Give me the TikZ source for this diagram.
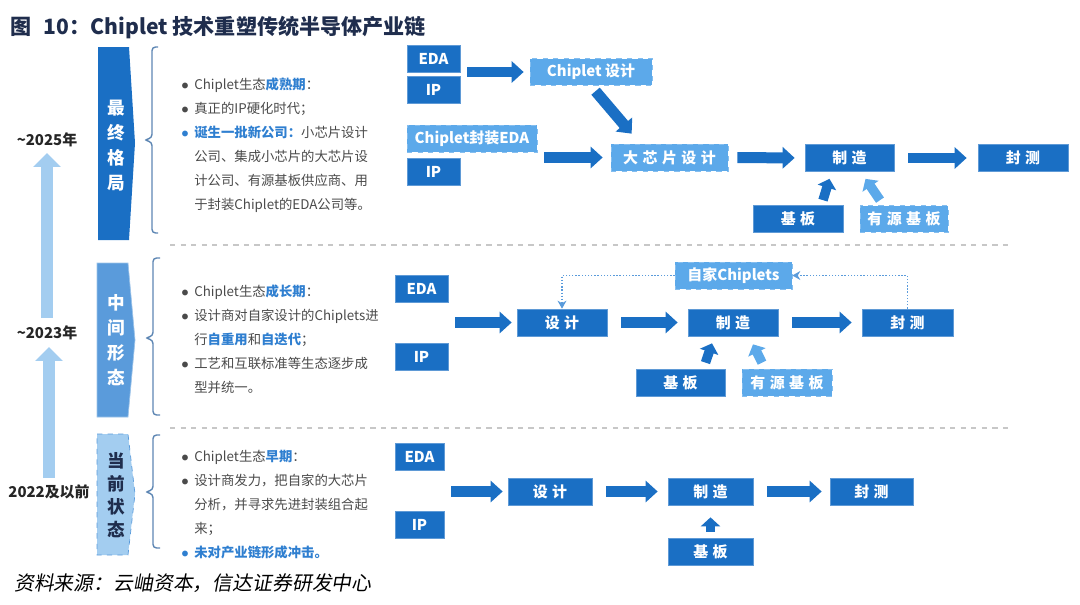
\documentclass[tikz,border=0pt]{standalone}
\usepackage{fontspec}
\setmainfont{Noto Sans CJK SC}
\newfontfamily\srcfont{Noto Sans CJK SC}[FakeSlant=0.18]
\usetikzlibrary{arrows.meta,calc}

\definecolor{dkblue}{HTML}{1A6FC4}
\definecolor{ltblue}{HTML}{5CA9EA}
\definecolor{midblue}{HTML}{5A9BDB}
\definecolor{paleblue}{HTML}{A3CDF0}
\definecolor{navy}{HTML}{1F2D4D}
\definecolor{hiblue}{HTML}{2F7FD0}
\definecolor{bodygray}{HTML}{4A4A4A}
\definecolor{bracecol}{HTML}{5D86B3}

\newcommand{\hib}[1]{{\color{hiblue}\bfseries #1}}
\newcommand{\bul}{\makebox[2.6mm][l]{$\bullet$}}
\newcommand{\ind}{\hspace*{2.6mm}}
\newcommand{\gp}{\hspace{0.3em}}

\begin{document}
\begin{tikzpicture}[x=0.02cm, y=-0.02cm,
  box/.style={rectangle, inner sep=0pt, minimum height=5.4mm, font=\fontsize{8.5}{10}\selectfont\bfseries},
  dk/.style={box, fill=dkblue, draw=dkblue!70!white, text=white},
  lt/.style={box, fill=ltblue, draw=ltblue!75!white, dashed, text=white},
  bw/.style={minimum width=#1*0.2mm},
  flowarr/.style={draw=dkblue, line width=2.2mm, shorten <=2.8mm, shorten >=2mm, -{Triangle[length=2.4mm, width=4.2mm]}},
  riser/.style={draw=#1, line width=1.9mm, -{Triangle[length=1.8mm, width=3.8mm]}},
  fb/.style={draw=midblue, densely dotted, line width=0.8pt, -{Stealth[length=1.6mm, width=1.8mm]}},
  tline/.style={draw=paleblue, line width=2.4mm, -{Triangle[length=2.8mm, width=5.4mm]}},
  yr/.style={inner sep=0pt, font=\fontsize{8.5}{10}\selectfont\bfseries, text=black!85},
  stagetxt/.style={align=center, inner sep=0pt, font=\fontsize{10}{14.2}\selectfont\bfseries},
  notes/.style={anchor=north west, align=left, inner sep=0pt, text=bodygray, font=\fontsize{7.6}{13.6}\selectfont},
  brace/.style={draw=bracecol, line width=0.8pt, rounded corners=2pt},
  sep/.style={draw=black!22, dashed, line width=0.6pt}]
  \useasboundingbox (0,0) rectangle (1080,605);

  \node[anchor=west, font=\fontsize{12}{14}\selectfont\bfseries, text=navy] (title) at (4,28)
    {图\hspace{0.6em}10：Chiplet 技术重塑传统半导体产业链};

  % time line
  \node[yr] (y25) at (47,140) {\textasciitilde2025年};
  \node[yr] (y23) at (47,333) {\textasciitilde2023年};
  \node[yr] (y22) at (49,492) {2022及以前};
  \draw[tline, shorten <=1.5mm, shorten >=1.1mm] (y23.north) -- (y25.south);
  \draw[tline, shorten <=1.3mm, shorten >=1.3mm] (y22.north) -- (y22.north |- y23.south);

  % stage labels
  \fill[dkblue] (98,47) -- (129,47) -- (135,143) -- (129,240) -- (98,240) -- cycle;
  \node[stagetxt, text=white] (st1) at (116,146) {最\\终\\格\\局};
  \filldraw[fill=midblue, draw=midblue!60!white] (97,263) -- (128,263) -- (135,340) -- (128,417) -- (97,417) -- cycle;
  \node[stagetxt, text=white] (st2) at (116,340) {中\\间\\形\\态};
  \filldraw[fill=paleblue, draw=midblue, dashed] (97,434) -- (128,434) -- (135,494) -- (128,555) -- (97,555) -- cycle;
  \node[stagetxt, text=navy, font=\fontsize{10}{13}\selectfont\bfseries] (st3) at (116,495) {当\\前\\状\\态};

  \draw[brace] (158,47) -- (152,47) -- (152,138) -- (144,140) -- (152,142) -- (152,233) -- (158,233);
  \draw[brace] (160,258) -- (153,258) -- (153,336) -- (145,338) -- (153,340) -- (153,415) -- (160,415);
  \draw[brace] (160,435) -- (153,435) -- (153,490) -- (145,492) -- (153,494) -- (153,548) -- (160,548);

  \draw[sep] (170,245) -- (1008,245);
  \draw[sep] (170,428) -- (1008,428);

  % notes
  \node[notes] (n1) at (181,78) {\bul Chiplet生态\hib{成熟期}：\\
    \bul 真正的IP硬化时代；\\
    {\color{hiblue}\bul}\hib{诞生一批新公司：}小芯片设计\\
    \ind 公司、集成小芯片的大芯片设\\
    \ind 计公司、有源基板供应商、用\\
    \ind 于封装Chiplet的EDA公司等。};
  \node[notes] (n2) at (181,285) {\bul Chiplet生态\hib{成长期}：\\
    \bul 设计商对自家设计的Chiplets进\\
    \ind 行\hib{自重用}和\hib{自迭代}；\\
    \bul 工艺和互联标准等生态逐步成\\
    \ind 型并统一。};
  \node[notes] (n3) at (181,450) {\bul Chiplet生态\hib{早期}：\\
    \bul 设计商发力，把自家的大芯片\\
    \ind 分析，并寻求先进封装组合起\\
    \ind 来；\\
    {\color{hiblue}\bul}\hib{未对产业链形成冲击。}};

  % final stage
  \node[dk, bw=53] (eda1) at (433.5,58.5) {EDA};
  \node[dk, bw=53] (ip1) at (433.5,90) {IP};
  \node[lt, bw=122] (cdes) at (591,72) {Chiplet 设计};
  \node[lt, bw=130] (pkeda) at (472,138.5) {Chiplet封装EDA};
  \node[dk, bw=53] (ip1b) at (433.5,172) {IP};
  \node[lt, bw=117] (bdes) at (669.5,157.5) {大\gp 芯\gp 片\gp 设\gp 计};
  \node[dk, bw=89] (fab1) at (849.5,158) {制\gp 造};
  \node[dk, bw=90] (pkt1) at (1023,158) {封\gp 测};
  \node[dk, bw=90] (sub1) at (798,219) {基\gp 板};
  \node[lt, bw=88] (asub1) at (904,219) {有\gp 源\gp 基\gp 板};

  \draw[flowarr, shorten <=1.4mm, shorten >=1.2mm] (eda1.east |- cdes.west) -- (cdes.west);
  \draw[flowarr, shorten <=1.4mm, shorten >=1.6mm] (pkeda.east |- bdes.west) -- (bdes.west);
  \draw[flowarr, shorten <=1.4mm, shorten >=0mm] (cdes.south) -- ($(bdes.north west)+(21,-10)$);
  \draw[flowarr, shorten <=1.8mm] (bdes.east) -- (fab1.west);
  \draw[flowarr, shorten >=2.2mm] (fab1.east) -- (pkt1.west);
  \draw[riser=dkblue] ($(sub1.north)+(25,-5)$) -- ($(fab1.south)+(-20,7)$);
  \draw[riser=ltblue] ($(asub1.north)+(-24,-5)$) -- ($(fab1.south)+(16,7)$);

  % middle stage
  \node[dk, bw=53] (eda2) at (421.5,289) {EDA};
  \node[dk, bw=53] (ip2) at (421.5,356.5) {IP};
  \node[dk, bw=90] (des2) at (562,322.5) {设\gp 计};
  \node[dk, bw=90] (fab2) at (733,322.5) {制\gp 造};
  \node[dk, bw=91] (pkt2) at (907.5,322.5) {封\gp 测};
  \node[lt, bw=117] (own2) at (733.5,275.5) {自家Chiplets};
  \node[dk, bw=89] (sub2) at (680.5,382.5) {基\gp 板};
  \node[lt, bw=90] (asub2) at (787,382.5) {有\gp 源\gp 基\gp 板};

  \draw[flowarr, shorten <=1.4mm, shorten >=1mm] (eda2.east |- des2.west) -- (des2.west);
  \draw[flowarr] (des2.east) -- (fab2.west);
  \draw[flowarr] (fab2.east) -- (pkt2.west);
  \draw[fb] (pkt2.north) |- (own2.east);
  \draw[fb] (own2.west) -| (des2.north);
  \draw[riser=dkblue] ($(sub2.north)+(25,-6)$) -- ($(fab2.south)+(-21,7)$);
  \draw[riser=ltblue] ($(asub2.north)+(-25,-6)$) -- ($(fab2.south)+(20,8)$);

  % current stage
  \node[dk, bw=49] (eda3) at (419.5,456.5) {EDA};
  \node[dk, bw=49] (ip3) at (419.5,525) {IP};
  \node[dk, bw=84] (des3) at (550,491.5) {设\gp 计};
  \node[dk, bw=85] (fab3) at (710.5,491.5) {制\gp 造};
  \node[dk, bw=83] (pkt3) at (871.5,491.5) {封\gp 测};
  \node[dk, bw=85] (sub3) at (710.5,551.5) {基\gp 板};

  \draw[flowarr, shorten <=1.4mm, shorten >=1mm] (eda3.east |- des3.west) -- (des3.west);
  \draw[flowarr] (des3.east) -- (fab3.west);
  \draw[flowarr, shorten >=1.6mm] (fab3.east) -- (pkt3.west);
  \draw[riser=dkblue] ($(sub3.north)+(0,-6)$) -- ($(fab3.south)+(0,12)$);

  \node[anchor=west, font=\srcfont\fontsize{11.3}{13}\selectfont, text=black] (src) at (8,583)
    {资料来源：云岫资本，信达证券研发中心};
\end{tikzpicture}
\end{document}
